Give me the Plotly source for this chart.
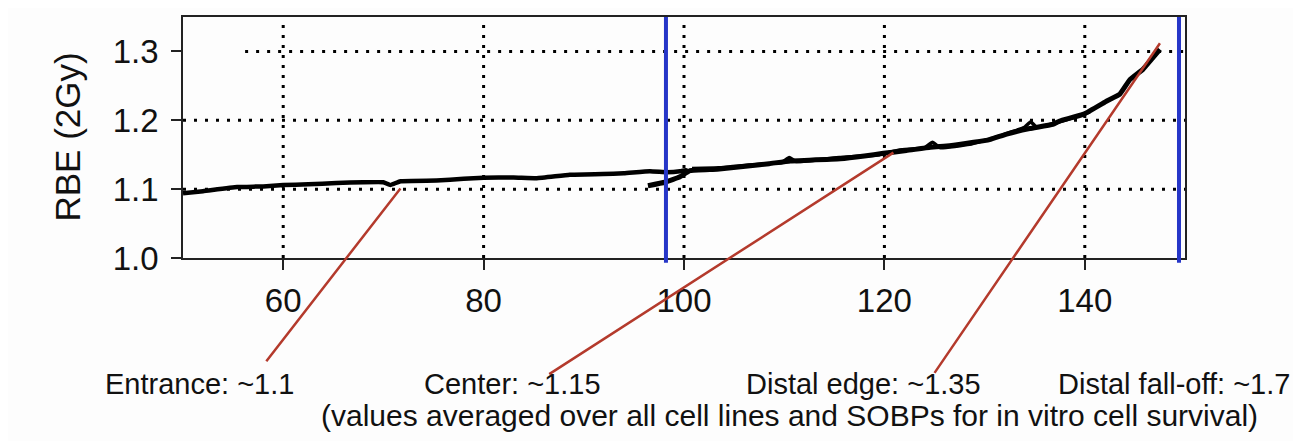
import plotly.graph_objects as go

# ---------------- data ----------------
# entrance / plateau curve
curve1_x = [50, 52, 55.4, 58, 60, 62.5, 65.3, 68, 70, 70.7, 71.7, 75.3, 78, 80, 83, 85.3,
            88.6, 91.9, 94, 96.6, 98.3, 99.6, 100.2, 99.8]
curve1_y = [1.094, 1.097, 1.103, 1.104, 1.106, 1.107, 1.109, 1.110, 1.110, 1.106, 1.1115, 1.1125,
            1.115, 1.1165, 1.117, 1.116, 1.121, 1.122, 1.123, 1.126, 1.1245, 1.126, 1.128, 1.124]

# SOBP / distal curve
curve2_x = [96.4, 98.1, 99.6, 100.6, 103.3, 106.6, 108.5, 110.6, 112.5, 115.6, 118, 119.9, 122.2,
            124.6, 126.5, 128.9, 130.5, 132.2, 134.5, 136.8, 137.5, 139.9, 142.2, 143.5, 144.5,
            145.8, 146.8, 147.5]
curve2_y = [1.105, 1.110, 1.118, 1.127, 1.129, 1.134, 1.137, 1.141, 1.142, 1.144, 1.148, 1.152, 1.156,
            1.161, 1.163, 1.168, 1.172, 1.180, 1.188, 1.194, 1.199, 1.209, 1.228, 1.238, 1.259,
            1.274, 1.291, 1.303]

# overlapping second SOBP curve (small loops where the curves cross)
curve3_x = [100.8, 103.5, 106.5, 109.8, 110.5, 111.2, 115.5, 119.5, 121.5, 124.0, 124.8, 125.6,
            128.5, 131.5, 134.0, 134.6, 135.2, 138.0, 140.5]
curve3_y = [1.130, 1.131, 1.135, 1.139, 1.146, 1.140, 1.146, 1.150, 1.157, 1.160, 1.168, 1.160,
            1.165, 1.177, 1.190, 1.198, 1.190, 1.200, 1.212]

x_ticks = [60, 80, 100, 120, 140]
y_ticks = [1.0, 1.1, 1.2, 1.3]
y_ticktext = ["1.0", "1.1", "1.2", "1.3"]

# blue marker lines (SOBP region limits)
blue_x = [98.2, 149.4]

# red pointer lines: tip on curve, tail near label
ptr_tip_x = [71.7, 120.9, 147.5]
ptr_tip_y = [1.101, 1.153, 1.312]
ptr_tail_x = [58.2, 86.4, 124.9]
ptr_tail_y = [0.848, 0.830, 0.831]

labels = ["Entrance: ~1.1", "Center: ~1.15", "Distal edge: ~1.35", "Distal fall-off: ~1.7"]
note = "(values averaged over all cell lines and SOBPs for in vitro cell survival)"

# ---------------- layout geometry ----------------
# page body has an 8px margin, so the figure is drawn 8px in from the top-left
OFF = 8
W, H = 1301 - OFF, 441 - OFF
L, T = 183 - OFF, 15 - OFF
PR, PB = 1185 - OFF, 258 - OFF           # plot right / bottom in figure px
R, B = W - PR, H - PB
pw, ph = PR - L, PB - T
X0, X1, Y0, Y1 = 50, 150, 1.0, 1.35

def px2paper_x(px):  # px in page coordinates
    return (px - OFF - L) / pw

def px2paper_y(py):
    return (PB - (py - OFF)) / ph

FONT = "Liberation Sans, Arial, Helvetica, sans-serif"

fig = go.Figure()

for cx, cy, w in [(curve1_x, curve1_y, 4.5), (curve2_x, curve2_y, 5), (curve3_x, curve3_y, 3.5)]:
    fig.add_trace(go.Scatter(x=cx, y=cy, mode="lines",
                             line=dict(color="black", width=w, shape="spline", smoothing=0.3),
                             showlegend=False, hoverinfo="skip"))

shapes = []
# dotted grid
for yv, xs in [(1.1, X0), (1.2, X0), (1.3, 56.2)]:
    shapes.append(dict(type="line", xref="x", yref="y", x0=xs, x1=X1, y0=yv, y1=yv,
                       line=dict(color="black", width=3, dash="3px,8px"), layer="below"))
for xv in x_ticks:
    shapes.append(dict(type="line", xref="x", yref="y", x0=xv, x1=xv, y0=Y0, y1=Y1 - 0.005,
                       line=dict(color="black", width=3, dash="3px,7px"), layer="below"))
# blue lines
for bx in blue_x:
    shapes.append(dict(type="line", xref="x", yref="paper", x0=bx, x1=bx, y0=-0.02, y1=1,
                       line=dict(color="#2636c8", width=4), layer="above"))

annotations = []
for tx, ty, ax, ay in zip(ptr_tip_x, ptr_tip_y, ptr_tail_x, ptr_tail_y):
    annotations.append(dict(x=tx, y=ty, xref="x", yref="y", ax=ax, ay=ay, axref="x", ayref="y",
                            text="", showarrow=True, arrowhead=0, arrowwidth=2.5,
                            arrowcolor="#b43a2c", standoff=0, startstandoff=0))

label_cx = [199, 512, 863, 1174]
for txt, cx in zip(labels, label_cx):
    annotations.append(dict(x=px2paper_x(cx), y=px2paper_y(385), xref="paper", yref="paper",
                            text=txt, showarrow=False, xanchor="center", yanchor="middle",
                            font=dict(family=FONT, size=29, color="#111111")))
annotations.append(dict(x=px2paper_x(789), y=px2paper_y(417), xref="paper", yref="paper",
                        text=note, showarrow=False, xanchor="center", yanchor="middle",
                        font=dict(family=FONT, size=30, color="#111111")))
# y axis title
annotations.append(dict(x=px2paper_x(67), y=0.5, xref="paper", yref="paper", text="RBE (2Gy)",
                        textangle=-90, showarrow=False, xanchor="center", yanchor="middle",
                        font=dict(family=FONT, size=35, color="#111111")))

fig.update_layout(
    width=W, height=H,
    margin=dict(l=L, r=R, t=T, b=B, pad=0),
    paper_bgcolor="#fdfdfd", plot_bgcolor="#fdfdfd",
    shapes=shapes, annotations=annotations,
    font=dict(family=FONT, color="#111111"),
    xaxis=dict(range=[X0, X1], tickvals=x_ticks, showgrid=False, zeroline=False,
               showline=True, linecolor="#222222", linewidth=1.5, mirror=True,
               ticks="outside", ticklen=10, tickwidth=1.5, tickcolor="#222222",
               tickfont=dict(size=33, family=FONT, color="#111111"), ticklabelstandoff=3),
    yaxis=dict(range=[Y0, Y1], tickvals=y_ticks, ticktext=y_ticktext, showgrid=False,
               zeroline=False, showline=True, linecolor="#222222", linewidth=1.5, mirror=True,
               ticks="outside", ticklen=10, tickwidth=1.5, tickcolor="#222222",
               tickfont=dict(size=33, family=FONT, color="#111111"), ticklabelstandoff=6),
)

fig.write_html("out.html")
